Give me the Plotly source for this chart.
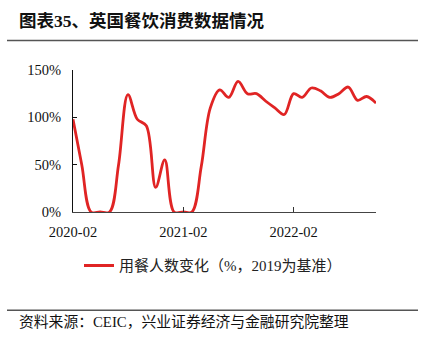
import plotly.graph_objects as go

months = ["2020-02", "2020-03", "2020-04", "2020-05", "2020-06", "2020-07", "2020-08",
          "2020-09", "2020-10", "2020-11", "2020-12", "2021-01", "2021-02", "2021-03",
          "2021-04", "2021-05", "2021-06", "2021-07", "2021-08", "2021-09", "2021-10",
          "2021-11", "2021-12", "2022-01", "2022-02", "2022-03", "2022-04", "2022-05",
          "2022-06", "2022-07", "2022-08", "2022-09", "2022-10", "2022-11"]
diners_pct = [98, 50, 0, 0, 0, 50, 124,
              98, 91, 26, 55, 0, 0, 0,
              48, 110, 129, 121, 138, 125, 125,
              117, 110, 103, 125, 121, 131, 128,
              121, 125, 132, 118, 122, 115]
tick_months = ["2020-02", "2021-02", "2022-02"]
y_ticks = [0, 50, 100, 150]

W, H = 425, 339
L, R, T, B = 73, 376, 69.5, 211.7

def px(x):
    return (x - L) / (R - L)

def py(y):
    return (B - y) / (B - T)

FONT = "Liberation Serif, Noto Sans CJK SC, serif"

fig = go.Figure()
fig.add_trace(go.Scatter(
    x=[m + "-01" for m in months], y=diners_pct, mode="lines",
    line=dict(color="#E02424", width=2.8, shape="spline", smoothing=1.0),
    name="用餐人数变化（%，2019为基准）",
))

fig.update_layout(
    width=W, height=H,
    margin=dict(l=L, r=W - R, t=T, b=H - B),
    paper_bgcolor="white", plot_bgcolor="white",
    showlegend=True,
    legend=dict(orientation="h", x=px(79), y=py(249), xanchor="left", yanchor="top",
                font=dict(family=FONT, size=15, color="#222"), bgcolor="rgba(0,0,0,0)"),
    xaxis=dict(
        type="date", range=[months[0] + "-01", months[-1] + "-01"],
        tickvals=[m + "-01" for m in tick_months], ticktext=tick_months,
        ticks="inside", ticklen=5, tickcolor="#333", showgrid=False,
        showline=True, linecolor="#444", linewidth=1.2, zeroline=False,
        ticklabelstandoff=6,
        tickfont=dict(family=FONT, size=14.5, color="#111"),
    ),
    yaxis=dict(
        range=[0, 150], tickvals=y_ticks, ticktext=[f"{v}%" for v in y_ticks],
        ticks="inside", ticklen=4, tickcolor="#111", showgrid=False,
        showline=True, linecolor="#111", linewidth=1.2, zeroline=False,
        ticklabelstandoff=8,
        tickfont=dict(family=FONT, size=14.5, color="#111"),
    ),
    shapes=[
        dict(type="line", xref="paper", yref="paper", x0=px(7), x1=px(418), y0=py(40), y1=py(40),
             line=dict(color="#555", width=1.5)),
        dict(type="line", xref="paper", yref="paper", x0=px(7), x1=px(418), y0=py(310), y1=py(310),
             line=dict(color="#555", width=1.5)),
    ],
    annotations=[
        dict(text="<b>图表35、英国餐饮消费数据情况</b>", xref="paper", yref="paper",
             x=px(17), y=py(20), xanchor="left", yanchor="middle", showarrow=False,
             font=dict(family="Liberation Serif, Noto Sans CJK SC", size=17.5, color="#111")),
        dict(text="资料来源：CEIC，兴业证券经济与金融研究院整理", xref="paper", yref="paper",
             x=px(17), y=py(321), xanchor="left", yanchor="middle", showarrow=False,
             font=dict(family=FONT, size=14.8, color="#111")),
    ],
)

fig.write_html("out.html")
